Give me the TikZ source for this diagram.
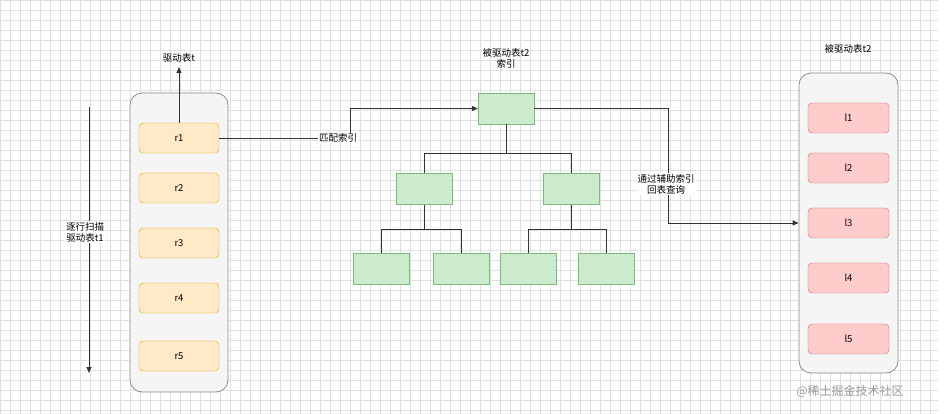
\documentclass[tikz,border=0pt]{standalone}
\usepackage{fontspec}
\setmainfont{Noto Sans CJK SC}
\usetikzlibrary{arrows.meta}
\begin{document}
\begin{tikzpicture}[x=1pt,y=-1pt,font=\fontsize{9.5}{11}\selectfont,
  cont/.style={draw=black!45,fill=black!4,rounded corners=12pt,line width=0.8pt},
  ybox/.style={draw=orange!60!yellow!90!black,fill=yellow!25!orange!20,rounded corners=4pt,minimum width=80pt,minimum height=30pt,inner sep=0},
  pbox/.style={draw=red!60!black!60,fill=red!20,rounded corners=4pt,minimum width=81pt,minimum height=30pt,inner sep=0},
  gbox/.style={draw=green!45!black!50,fill=green!60!black!20,minimum width=56pt,minimum height=31pt,inner sep=0},
  conn/.style={line width=0.8pt,black!80},
  arr/.style={conn,-{Triangle[length=6pt,width=5pt]}},
  lbl/.style={align=center,fill=white,inner sep=1pt}]
\useasboundingbox (0,0) rectangle (946,414);
\draw[black!12,step=10pt] (0,0) grid (938,414);
\node[cont,minimum width=98pt,minimum height=299pt] (L) at (179,242.5) {};
\node[cont,minimum width=99pt,minimum height=300pt] (R) at (848.5,223) {};
\foreach \n/\y in {1/138,2/188,3/243,4/298,5/356}{\node[ybox] (r\n) at (179,\y) {r\n};}
\foreach \n/\y in {1/118,2/168,3/223,4/278,5/339}{\node[pbox] (l\n) at (848.5,\y) {l\n};}
\node[gbox] (root) at (506,108.5) {};
\node[gbox] (m1) at (424,189) {};
\node[gbox] (m2) at (571,189) {};
\node[gbox] (a1) at (381,268.5) {};
\node[gbox] (a2) at (461,268.5) {};
\node[gbox] (a3) at (528,268.5) {};
\node[gbox] (a4) at (606,268.5) {};
\node (tt) at (179,58) {驱动表t};
\coordinate (ttop) at (179,67);
\draw[arr] (r1.north) -- (ttop);
\coordinate (s1) at (89,107); \coordinate (s2) at (89,373);
\draw[arr] (s1) -- (s2);
\node[lbl] (scan) at (85,232) {逐行扫描\\驱动表t1};
\node[align=center] (rl) at (506,58) {被驱动表t2\\索引};
\node (rt) at (848,49) {被驱动表t2};
\coordinate (bend) at (350,138);
\draw[arr] (r1.east) -- (bend) |- (root.west);
\node[lbl] (mi) at (338,138) {匹配索引};
\draw[conn] (root.south) -- (506,153) -| (m1.north);
\draw[conn] (506,153) -| (m2.north);
\draw[conn] (m1.south) -- (424,229) -| (a1.north);
\draw[conn] (424,229) -| (a2.north);
\draw[conn] (m2.south) -- (571,229) -| (a3.north);
\draw[conn] (571,229) -| (a4.north);
\draw[arr] (root.east) -- (668,108.5) |- (R.west);
\node[lbl] (hb) at (666,184) {通过辅助索引\\回表查询};
\node[text=black!40,font=\fontsize{12}{13}\selectfont] (wm) at (850,391) {@稀土掘金技术社区};
\end{tikzpicture}
\end{document}
